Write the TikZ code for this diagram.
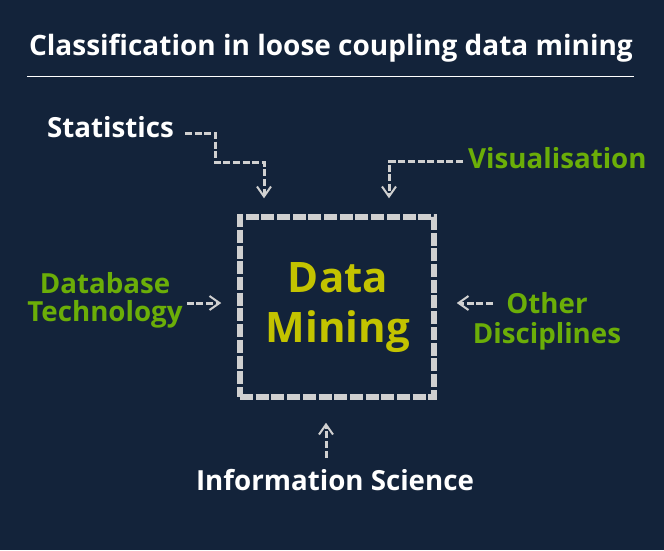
\documentclass[tikz,border=0pt]{standalone}
\usepackage{fontspec}
\setmainfont{Open Sans}
\usetikzlibrary{arrows.meta,calc}
\definecolor{bg}{HTML}{13233A}
\definecolor{lgreen}{HTML}{6BAE08}
\definecolor{dmyellow}{HTML}{C3C300}
\definecolor{lgray}{HTML}{D0D0D0}
\tikzset{
  lbl/.style={font=\bfseries\fontsize{27.7}{28}\selectfont, inner sep=0pt},
  ttl/.style={font=\bfseries\fontsize{28}{30}\selectfont, inner sep=0pt, text=white},
  dmtxt/.style={font=\bfseries\fontsize{42}{50}\selectfont, inner sep=0pt, text=dmyellow, align=center},
  dmbox/.style={draw=lgray, line width=5.5pt, dash pattern=on 13pt off 2.7pt, minimum width=194pt, minimum height=180pt, inner sep=0pt},
  conn/.style={draw=lgray, line width=3pt, dash pattern=on 7pt off 2.6pt, -{Straight Barb[length=10pt,width=14pt,line width=2pt]}},
}
\begin{document}
\begin{tikzpicture}[x=1pt,y=-1pt]
\fill[bg] (0,0) rectangle (664,550);
\useasboundingbox (0,0) rectangle (664,550);
% title
\node[ttl, anchor=base] (title) at (331,55) {Classification in loose coupling data mining};
\coordinate (r0) at (27,76.5);
\coordinate (r1) at (634,76.5);
\draw[white, line width=1.2pt] (r0) -- (r1);
% box
\node[dmbox] (dm) at (337,307) {};
\node[dmtxt, anchor=base] (dmt) at (338,342) {Data\\Mining};
% labels
\node[lbl, text=white, anchor=base west] (stat) at (47,137) {Statistics};
\node[lbl, text=lgreen, anchor=base west] (vis) at (468,168) {Visualisation};
\node[lbl, text=lgreen, align=center, anchor=base] (db) at (105,321) {Database\\[0pt]Technology};
\node[lbl, text=lgreen, align=center, anchor=base] (oth) at (547,343) {Other\\[2pt]Disciplines};
\node[lbl, text=white, anchor=base] (info) at (335,490) {Information Science};
% arrow tips
\coordinate (stip) at ($(dm.north)+(-73,-16)$);
\coordinate (vtip) at ($(dm.north)+(52,-16)$);
\coordinate (dtip) at ($(dm.west)+(-16,-4)$);
\coordinate (otip) at ($(dm.east)+(20,-4)$);
\coordinate (itip) at ($(dm.south)+(-11,23)$);
% connectors
\draw[conn] (stat.east |- 0,133) ++(11,0) -| (215,162) -| (stip);
\draw[conn] ($(vis.west |- 0,161.7)+(-5,0)$) -| (vtip);
\draw[conn] ($(db.east |- dtip)+(4,0)$) -- (dtip);
\draw[conn] ($(oth.west |- otip)+(20,0)$) -- (otip);
\draw[conn] ($(info.north -| itip)+(0,-11)$) -- (itip);
\end{tikzpicture}
\end{document}
